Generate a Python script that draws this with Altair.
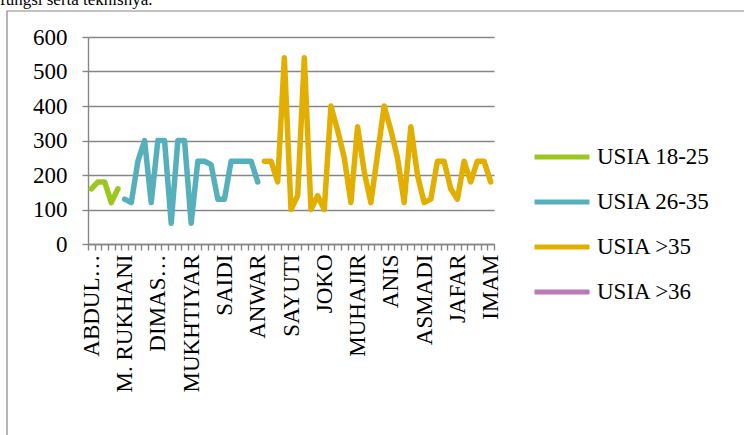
import altair as alt
import pandas as pd

# ---- data ----
n_categories = 61
tick_labels = ["ABDUL…", "M. RUKHANI", "DIMAS…", "MUKHTIYAR", "SAIDI", "ANWAR",
               "SAYUTI", "JOKO", "MUHAJIR", "ANIS", "ASMADI", "JAFAR", "IMAM"]
series_names = ["USIA 18-25", "USIA 26-35", "USIA >35", "USIA >36"]
series_colors = ["#9bc81e", "#55b0bb", "#e2ae00", "#b97ab5"]

start_18_25 = 0
usia_18_25 = [160, 180, 180, 120, 160]
start_26_35 = 5
usia_26_35 = [130, 120, 240, 300, 120, 300, 300, 60, 300, 300, 60, 240, 240, 230,
              130, 130, 240, 240, 240, 240, 180]
start_35 = 26
usia_35 = [240, 240, 180, 540, 100, 140, 540, 100, 140, 100,
           400, 330, 250, 120, 340, 210, 120, 260, 400, 330,
           250, 120, 340, 200, 120, 130, 240, 240, 160, 130,
           240, 180, 240, 240, 180]
start_36 = 0
usia_36 = []

header_text = "fungsi serta teknisnya."

rows = []
for name, start, vals in [(series_names[0], start_18_25, usia_18_25),
                          (series_names[1], start_26_35, usia_26_35),
                          (series_names[2], start_35, usia_35),
                          (series_names[3], start_36, usia_36)]:
    for i, v in enumerate(vals):
        rows.append({"series": name, "idx": start + i, "value": v})
df = pd.DataFrame(rows)

FONT = "Liberation Serif"
AX = "#868686"

label_arr = "[" + ",".join("'" + s + "'" for s in tick_labels) + "]"
label_expr = f"datum.value % 5 == 0 ? {label_arr}[datum.value / 5] : ''"

lines = alt.Chart(df).mark_line(strokeWidth=5.5, strokeJoin="round", strokeCap="round").encode(
    x=alt.X("idx:O", bandPosition=0.5,
            scale=alt.Scale(type="band", domain=list(range(n_categories)),
                            paddingInner=0, paddingOuter=0),
            axis=alt.Axis(title=None, tickBand="extent", labelExpr=label_expr,
                          labelAngle=-90, labelFont=FONT, labelFontSize=23,
                          labelColor="black", labelPadding=4, labelOverlap=False,
                          labelBound=False, labelFlush=False,
                          domainColor=AX, domainWidth=1.4, tickColor=AX,
                          tickWidth=1.4, tickSize=6, grid=False)),
    y=alt.Y("value:Q", scale=alt.Scale(domain=[0, 600], nice=False),
            axis=alt.Axis(title=None, values=[0, 100, 200, 300, 400, 500, 600],
                          labelFont=FONT, labelFontSize=23, labelColor="black",
                          labelPadding=15, domainColor=AX, domainWidth=1.4,
                          tickColor=AX, tickWidth=1.4, tickSize=6,
                          grid=True, gridColor=AX, gridWidth=1.4)),
    color=alt.Color("series:N",
                    scale=alt.Scale(domain=series_names, range=series_colors),
                    legend=alt.Legend(title=None, orient="none", legendX=444, legendY=90,
                                      symbolType="stroke", symbolStrokeWidth=5,
                                      symbolSize=3025, labelFont=FONT,
                                      labelFontSize=23, labelColor="black",
                                      labelOffset=5, rowPadding=3)),
)

frame = alt.Chart(pd.DataFrame({"a": [0]})).mark_rect(
    filled=False, stroke=AX, strokeWidth=1.2).encode(
    x=alt.value(-81), x2=alt.value(800), y=alt.value(-26), y2=alt.value(500))

header = alt.Chart(pd.DataFrame({"t": [header_text]})).mark_text(
    font=FONT, fontSize=17, align="left", baseline="alphabetic", color="black").encode(
    x=alt.value(-88), y=alt.value(-32), text="t:N")

chart = alt.layer(frame, header, lines).properties(
    width=406, height=207,
    autosize=alt.AutoSizeParams(type="none"),
    padding={"left": 88, "top": 37, "right": 250, "bottom": 191},
).configure_view(stroke=None)

chart.save("out.html", embed_options={"renderer": "svg", "actions": False})
